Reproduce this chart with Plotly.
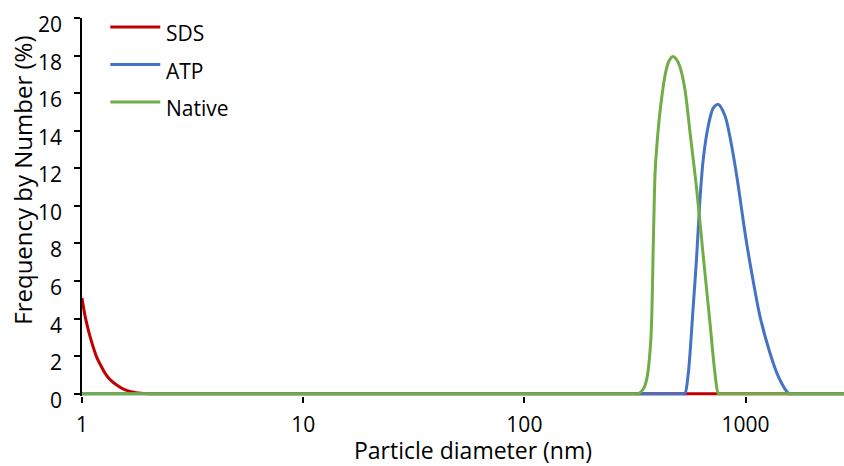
import plotly.graph_objects as go

# Particle size distributions (frequency by number, %) on a log diameter axis
sds_diam = [1.0, 1.03, 1.06, 1.09, 1.13, 1.17, 1.21, 1.27, 1.34, 1.44, 1.54, 1.63, 1.71, 1.8, 1.9, 2.1, 2.3,
            10, 100, 1000, 5000]
sds_freq = [5.1, 4.2, 3.55, 3.0, 2.4, 1.9, 1.55, 1.1, 0.75, 0.45, 0.25, 0.14, 0.08, 0.04, 0.015, 0.003, 0,
            0, 0, 0, 0]

atp_diam = [1.0, 100, 520, 532, 551, 580, 601, 622, 644, 678, 714, 753, 807, 865, 927, 994,
            1066, 1162, 1289, 1406, 1535, 1575, 1600, 5000]
atp_freq = [0, 0, 0, 0, 1.1, 4.66, 7.3, 10.35, 12.5, 14.25, 15.2, 15.4, 14.8, 13.2, 11.06, 8.57,
            6.44, 4.12, 2.17, 0.92, 0.12, 0, 0, 0]

native_diam = [1.0, 100, 315, 327, 345, 357, 373, 383, 390, 399, 413, 435, 450, 469, 487, 505, 532, 561,
               601, 644, 690, 727, 753, 770, 5000]
native_freq = [0, 0, 0, 0, 0.25, 0.75, 2.88, 8.2, 11.8, 13.5, 15.3, 17.1, 17.7, 17.95, 17.8, 17.4, 16.2, 13.9,
               10.9, 7.3, 3.8, 1.1, 0, 0, 0]

series_names = ["SDS", "ATP", "Native"]
series_colors = ["#C00000", "#4472C4", "#70AD47"]

x_tickvals = [1, 10, 100, 1000]
x_ticktext = ["1", "10", "100", "1000"]
y_tickvals = list(range(0, 21, 2))
y_ticktext = [str(v) for v in y_tickvals]

FONT = "Open Sans"
TICK = 21
TITLE = 23

# plot-area geometry (pixels)
L, T, B, W = 81.7, 18.3, 396.3, 762.3
H = B - T

fig = go.Figure()
for name, xs, ys, col in zip(series_names,
                             [sds_diam, atp_diam, native_diam],
                             [sds_freq, atp_freq, native_freq],
                             series_colors):
    fig.add_trace(go.Scatter(x=xs, y=ys, mode="lines", name=name,
                             line=dict(color=col, width=3, shape="spline", smoothing=0.8),
                             showlegend=False))

annotations = []
# y tick labels, set slightly below their tick marks
for v, t in zip(y_tickvals, y_ticktext):
    annotations.append(dict(x=0, y=v, xref="paper", yref="y", text=t, showarrow=False,
                            xanchor="right", yanchor="middle", xshift=-18, yshift=-6,
                            font=dict(family=FONT, size=TICK, color="black")))

# axis titles
annotations.append(dict(x=0, y=(B - 181) / H, xref="paper", yref="paper", text="Frequency by Number (%)",
                        showarrow=False, textangle=-90, xanchor="center", yanchor="middle",
                        xshift=-59, font=dict(family=FONT, size=TITLE + 1, color="black")))
annotations.append(dict(x=(473 - L) / W, y=0, xref="paper", yref="paper", text="Particle diameter (nm)",
                        showarrow=False, xanchor="center", yanchor="middle",
                        yshift=-54, font=dict(family=FONT, size=TITLE, color="black")))

# legend entries drawn as short line samples with labels
shapes = []
legend_y = [27.3, 64.8, 102.3]
for name, col, ly in zip(series_names, series_colors, legend_y):
    yp = (B - ly) / H
    shapes.append(dict(type="line", xref="paper", yref="paper",
                       x0=(110 - L) / W, x1=(160 - L) / W, y0=yp, y1=yp,
                       line=dict(color=col, width=3)))
    annotations.append(dict(x=(164 - L) / W, y=yp, xref="paper", yref="paper", text=name,
                            showarrow=False, xanchor="left", yanchor="middle", yshift=-6,
                            font=dict(family=FONT, size=TICK, color="black")))

fig.update_layout(
    width=844, height=466,
    margin=dict(l=L, r=0, t=T, b=466 - B),
    paper_bgcolor="white", plot_bgcolor="white",
    font=dict(family=FONT, size=TICK, color="black"),
    annotations=annotations, shapes=shapes,
    xaxis=dict(type="log", range=[0, 3.445], tickvals=x_tickvals, ticktext=x_ticktext,
               ticks="outside", ticklen=6, tickwidth=2, tickcolor="black",
               showline=False, showgrid=False, zeroline=False,
               ticklabelstandoff=4,
               tickfont=dict(family=FONT, size=TICK, color="black")),
    yaxis=dict(range=[-0.12, 20], tickvals=y_tickvals, showticklabels=False,
               ticks="outside", ticklen=6, tickwidth=2, tickcolor="black",
               showline=True, linecolor="black", linewidth=2,
               showgrid=False, zeroline=False),
)

fig.write_html("out.html")
